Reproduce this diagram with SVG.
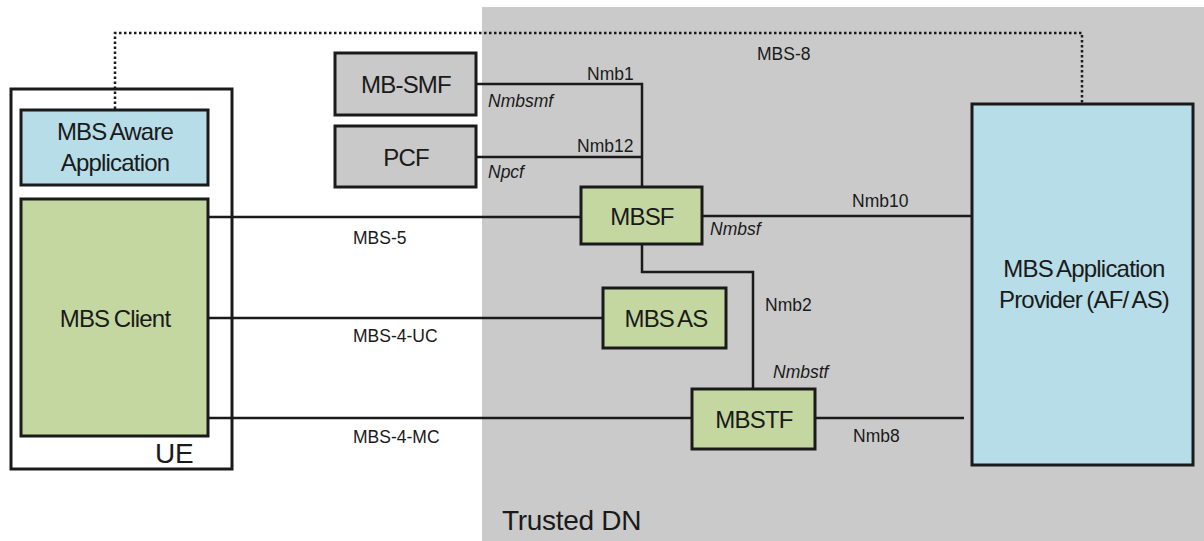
<svg xmlns="http://www.w3.org/2000/svg" width="1204" height="541" viewBox="0 0 1204 541">
<style>
.box{stroke:#1a1a1a;stroke-width:3}
.grey{fill:#c9c9c9}
.blue{fill:#b7dde8}
.green{fill:#c4d7a0}
.plain{fill:none}
.nl{font-family:"Liberation Sans",Arial,sans-serif;font-size:24px;fill:#1a1a1a;letter-spacing:-0.8px;word-spacing:-1.5px;text-anchor:middle}
.el{font-family:"Liberation Sans",Arial,sans-serif;font-size:17.5px;fill:#1a1a1a}
.it{font-style:italic}
.big{font-family:"Liberation Sans",Arial,sans-serif;font-size:28px;fill:#1a1a1a;letter-spacing:-0.3px}
.ln{fill:none;stroke:#1a1a1a;stroke-width:2.5}
.dot{fill:none;stroke:#1a1a1a;stroke-width:2.5;stroke-dasharray:2.5 2.5}
</style>
<rect x="482" y="7" width="722" height="534" fill="#cacaca"/>
<text class="big" x="502" y="530">Trusted DN</text>

<g id="ue">
<rect class="box plain" x="11" y="89" width="221" height="380"/>
<text class="big" x="155" y="463">UE</text>
</g>

<g id="connectors">
<polyline class="dot" points="115,109 115,33 1082,33 1082,104"/>
<polyline class="ln" points="476,84 642,84 642,187"/>
<line class="ln" x1="476" y1="157" x2="642" y2="157"/>
<line class="ln" x1="208" y1="217" x2="581" y2="217"/>
<line class="ln" x1="702" y1="216" x2="972" y2="216"/>
<polyline class="ln" points="642,244 642,272 753,272 753,389"/>
<line class="ln" x1="208" y1="318" x2="603" y2="318"/>
<line class="ln" x1="208" y1="418" x2="692" y2="418"/>
<line class="ln" x1="815" y1="418" x2="964" y2="418"/>
<text class="el" x="757" y="60">MBS-8</text>
<text class="el" x="587" y="80">Nmb1</text>
<text class="el it" x="488" y="107">Nmbsmf</text>
<text class="el" x="577" y="152">Nmb12</text>
<text class="el it" x="488" y="178">Npcf</text>
<text class="el" x="353" y="244">MBS-5</text>
<text class="el" x="852" y="207">Nmb10</text>
<text class="el it" x="710" y="235">Nmbsf</text>
<text class="el" x="765" y="311">Nmb2</text>
<text class="el" x="353" y="342">MBS-4-UC</text>
<text class="el it" x="773" y="378">Nmbstf</text>
<text class="el" x="353" y="443">MBS-4-MC</text>
<text class="el" x="853" y="442">Nmb8</text>
</g>

<g id="mbs-aware-app">
<rect class="box blue" x="21" y="110" width="187" height="75"/>
<text class="nl" x="115" y="140">MBS Aware</text>
<text class="nl" x="115" y="171">Application</text>
</g>
<g id="mbs-client">
<rect class="box green" x="21" y="199" width="187" height="237"/>
<text class="nl" x="115" y="327">MBS Client</text>
</g>
<g id="mb-smf">
<rect class="box grey" x="335" y="53" width="141" height="62"/>
<text class="nl" x="406" y="93">MB-SMF</text>
</g>
<g id="pcf">
<rect class="box grey" x="335" y="126" width="141" height="61"/>
<text class="nl" x="406" y="166">PCF</text>
</g>
<g id="mbsf">
<rect class="box green" x="581" y="187" width="121" height="57"/>
<text class="nl" x="642" y="225">MBSF</text>
</g>
<g id="mbs-as">
<rect class="box green" x="603" y="288" width="123" height="60"/>
<text class="nl" x="666" y="327">MBS AS</text>
</g>
<g id="mbstf">
<rect class="box green" x="692" y="389" width="123" height="60"/>
<text class="nl" x="754" y="428">MBSTF</text>
</g>
<g id="mbs-app-provider">
<rect class="box blue" x="972" y="104" width="221" height="361"/>
<text class="nl" x="1084" y="277">MBS Application</text>
<text class="nl" x="1084" y="308">Provider (AF/ AS)</text>
</g>
</svg>
